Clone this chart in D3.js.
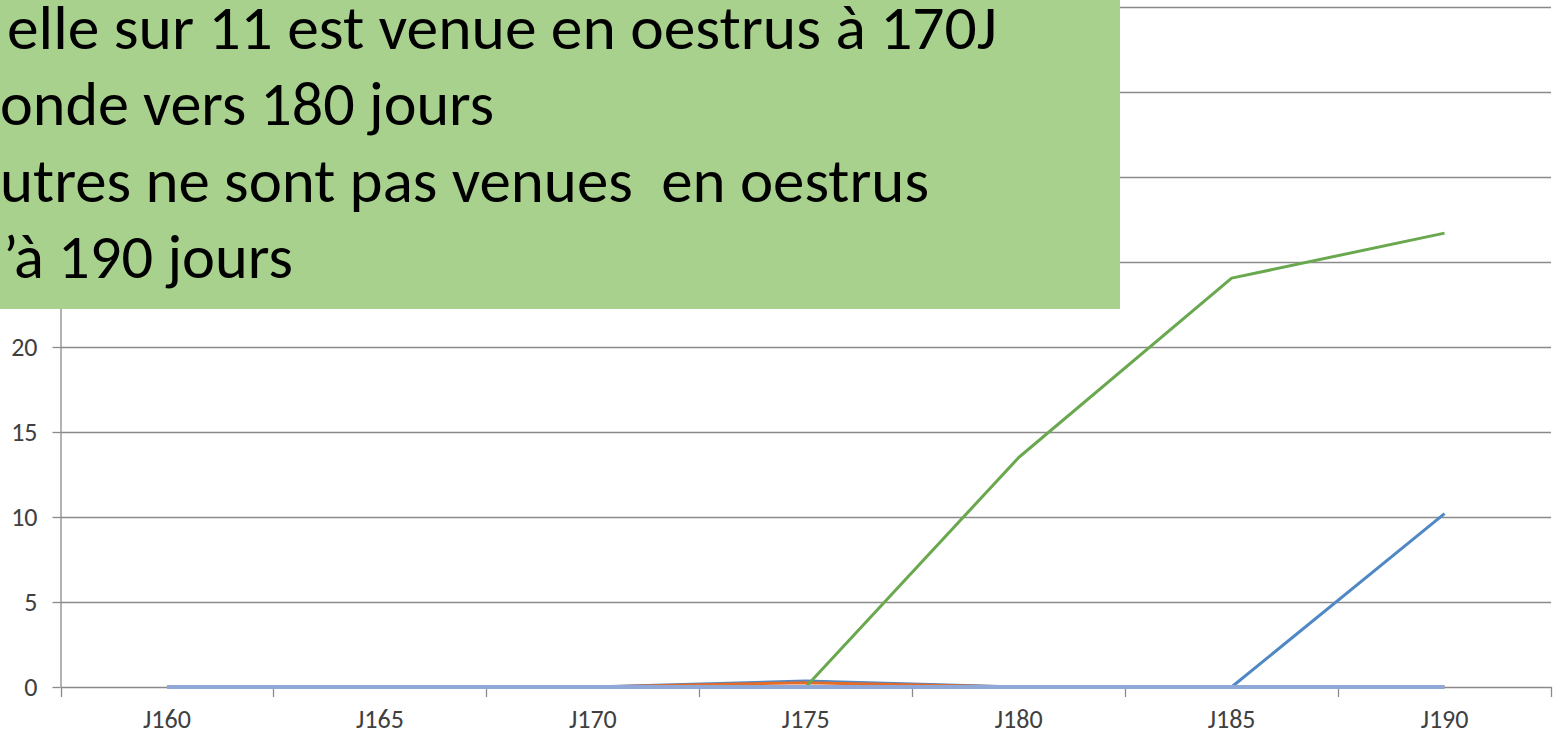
<!DOCTYPE html>
<html>
<head>
<meta charset="utf-8">
<script src="https://cdn.jsdelivr.net/npm/d3@7/dist/d3.min.js"></script>
<style>
  html, body { margin: 0; padding: 0; background: #fff; }
  svg { display: block; }
</style>
</head>
<body>
<div id="chart"></div>
<script>
// Days (category axis)
const days = ['J160', 'J165', 'J170', 'J175', 'J180', 'J185', 'J190'];
const yTicks = [0, 5, 10, 15, 20, 25, 30, 35, 40];

// Series values (drawn in this order, last on top)
const seriesBlue = [0, 0, 0, 0.35, 0, 0, 10.2];
const seriesOrange = [0, 0, 0, 0.25, 0, 0, 0];
const seriesGreen = [0, 0, 0, 0, 13.5, 24.05, 26.7];
const seriesFlat = [0, 0, 0, 0, 0, 0, 0];

// Annotation text (left part is cut off in the original)
const noteLines = [
    'elle sur 11 est venue en oestrus à 170J',
    'onde vers 180 jours',
    'utres ne sont pas venues  en oestrus',
    '’à 190 jours'
];

const width = 1557, height = 738;
const plotL = 60.5, plotR = 1551, plotT = 7, plotB = 687;
const boxW = 1120, boxH = 309;
const GRID = '#8a8a8a';
const LABEL = '#404040';
const FONT = "Carlito, Calibri, 'Open Sans', sans-serif";

const svg = d3.select('#chart').append('svg')
    .attr('width', width).attr('height', height)
    .attr('viewBox', `0 0 ${width} ${height}`);

const x = d3.scaleBand().domain(days).range([plotL, plotR]).paddingInner(0).paddingOuter(0);
const y = d3.scaleLinear().domain([0, 40]).range([plotB, plotT]);
const cx = (d) => x(d) + x.bandwidth() / 2;

// Gridlines
svg.append('g').selectAll('line').data(yTicks.filter((t) => t > 0)).enter().append('line')
    .attr('x1', plotL).attr('x2', plotR)
    .attr('y1', (d) => Math.round(y(d)) + 0.5).attr('y2', (d) => Math.round(y(d)) + 0.5)
    .attr('stroke', GRID).attr('stroke-width', 1.3);

// Y axis (labels hidden behind the note box are left out)
const yAxis = svg.append('g').attr('transform', `translate(${plotL},0)`)
    .call(d3.axisLeft(y).tickValues(yTicks).tickSize(8).tickSizeOuter(0).tickPadding(15)
        .tickFormat((d) => (y(d) > boxH + 10 ? d : '')));
yAxis.select('.domain').attr('stroke', GRID).attr('stroke-width', 1.3);
yAxis.selectAll('.tick line').attr('stroke', GRID).attr('stroke-width', 1.3);
yAxis.selectAll('.tick text')
    .attr('fill', LABEL)
    .style('font-family', FONT)
    .style('font-size', '26px');

// X axis: line at zero, ticks on band boundaries, labels centered
const xAxis = svg.append('g').attr('transform', `translate(0,${plotB})`)
    .call(d3.axisBottom(x).tickSize(0).tickSizeOuter(0).tickPadding(23));
xAxis.select('.domain').attr('stroke', GRID).attr('stroke-width', 1.3);
xAxis.selectAll('.tick text')
    .attr('fill', LABEL)
    .style('font-family', FONT)
    .style('font-size', '26px');
const bounds = days.map((d) => x(d)).concat([x.range()[1]]);
xAxis.append('g').selectAll('line').data(bounds).enter().append('line')
    .attr('x1', (d) => Math.round(d) + 0.5).attr('x2', (d) => Math.round(d) + 0.5)
    .attr('y1', 0).attr('y2', 10)
    .attr('stroke', GRID).attr('stroke-width', 1.3);

// Lines
const line = d3.line().x((d, i) => cx(days[i])).y((d) => y(d));
const series = [
    { values: seriesBlue, color: '#4f88c4', w: 3 },
    { values: seriesOrange, color: '#e36c2a', w: 3 },
    { values: seriesGreen, color: '#6aa84f', w: 3 },
    { values: seriesFlat, color: '#8fa8d8', w: 4 }
];
svg.append('g').selectAll('path').data(series).enter().append('path')
    .attr('fill', 'none')
    .attr('stroke', (d) => d.color)
    .attr('stroke-width', (d) => d.w)
    .attr('stroke-linejoin', 'round')
    .attr('d', (d) => line(d.values));

// Green annotation box on top
svg.append('rect')
    .attr('x', 0).attr('y', 0).attr('width', boxW).attr('height', boxH)
    .attr('fill', '#a9d18e');

const notePos = [
    { x: 7, end: 997, base: 49 },
    { x: 0, end: 494, base: 125 },
    { x: 0, end: 929, base: 202 },
    { x: 3, end: 293, base: 278 }
];
svg.append('g').selectAll('text').data(noteLines).enter().append('text')
    .attr('x', (d, i) => notePos[i].x)
    .attr('y', (d, i) => notePos[i].base)
    .attr('textLength', (d, i) => notePos[i].end - notePos[i].x)
    .attr('lengthAdjust', 'spacingAndGlyphs')
    .style('white-space', 'pre')
    .style('font-family', FONT)
    .style('font-size', '61px')
    .attr('fill', '#000')
    .text((d) => d);
</script>
</body>
</html>
